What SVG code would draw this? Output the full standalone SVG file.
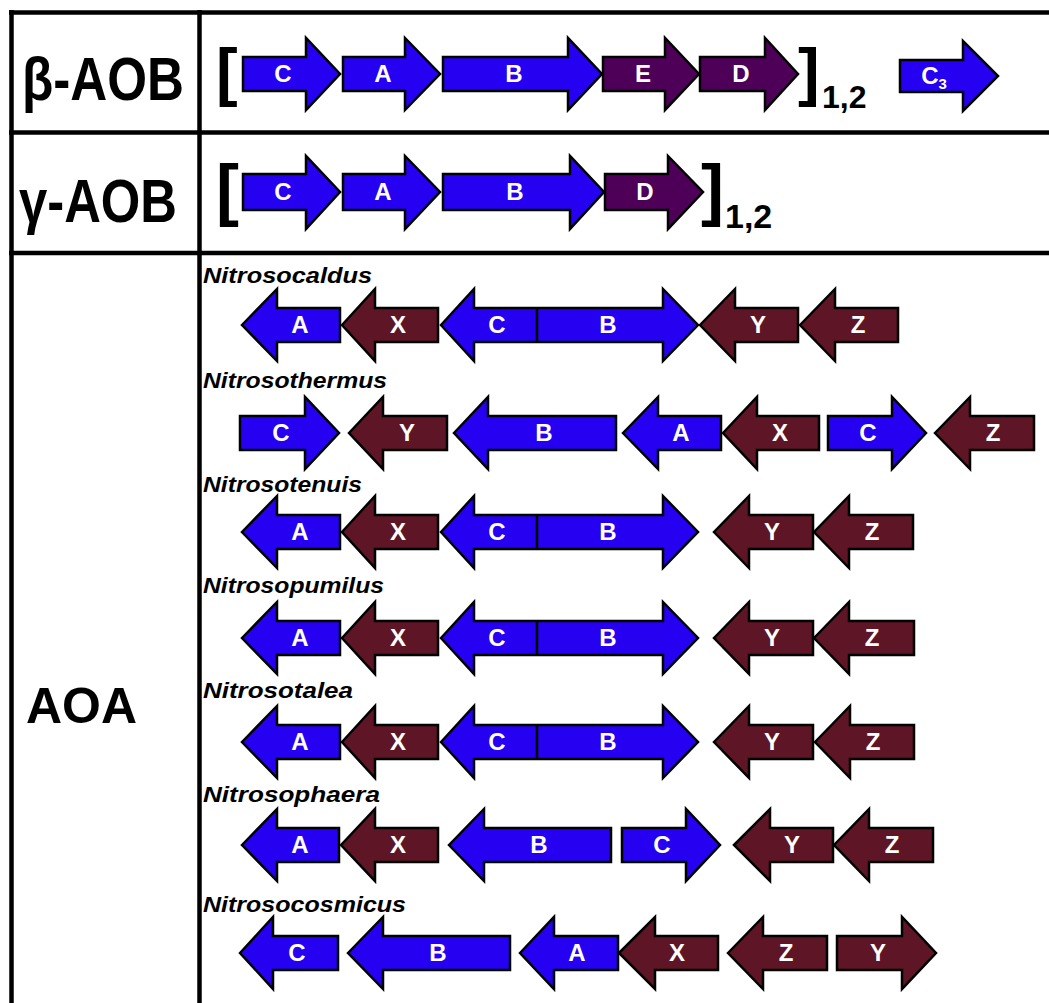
<svg xmlns="http://www.w3.org/2000/svg" width="1049" height="1003" viewBox="0 0 1049 1003">
<style>
.tb{stroke:#000;stroke-width:4.5;fill:none}
.g{stroke:#000;stroke-width:2.5;stroke-linejoin:miter}
.bl{fill:#2600f0}
.pu{fill:#4e0058}
.ma{fill:#5e1525}
.lb{font-family:"Liberation Sans",Arial,sans-serif;font-weight:bold;font-size:24px;fill:#fff;text-anchor:middle}
.sp{font-family:"Liberation Sans",Arial,sans-serif;font-weight:bold;font-style:italic;font-size:22px;fill:#000}
.big{font-family:"Liberation Sans",Arial,sans-serif;font-weight:bold;fill:#000}
.div{stroke:#000;stroke-width:2.5}
</style>
<rect width="1049" height="1003" fill="#fff"/>
<g id="table">
<line class="tb" x1="9" y1="12.5" x2="1049" y2="12.5"/>
<line class="tb" x1="9" y1="132.5" x2="1049" y2="132.5"/>
<line class="tb" x1="9" y1="253" x2="1049" y2="253"/>
<line class="tb" x1="11.5" y1="10" x2="11.5" y2="1003"/>
<line class="tb" x1="199.5" y1="10" x2="199.5" y2="1003"/>
</g>
<g id="row-labels">
<text class="big" x="22" y="100" font-size="62" textLength="162" lengthAdjust="spacingAndGlyphs">β-AOB</text>
<text class="big" x="19" y="222" font-size="62" textLength="158" lengthAdjust="spacingAndGlyphs">γ-AOB</text>
<text class="big" x="26" y="723" font-size="50" textLength="111" lengthAdjust="spacingAndGlyphs">AOA</text>
</g>
<g id="beta-AOB">
<text class="big" x="216" y="94" font-size="65">[</text>
<g id="b-C"><polygon class="g bl" points="243,57 306,57 306,38 340,74 306,110 306,91 243,91"/><text class="lb" x="283" y="82">C</text></g>
<g id="b-A"><polygon class="g bl" points="343,57 405,57 405,38 440,74 405,110 405,91 343,91"/><text class="lb" x="383" y="82">A</text></g>
<g id="b-B"><polygon class="g bl" points="443,57 568,57 568,38 602,74 568,110 568,91 443,91"/><text class="lb" x="514" y="82">B</text></g>
<g id="b-E"><polygon class="g pu" points="603,57 665,57 665,38 699,74 665,110 665,91 603,91"/><text class="lb" x="643" y="82">E</text></g>
<g id="b-D"><polygon class="g pu" points="700,57 765,57 765,38 798,74 765,110 765,91 700,91"/><text class="lb" x="741" y="82">D</text></g>
<text class="big" x="798" y="94" font-size="65">]</text>
<text class="big" x="822" y="108" font-size="32">1,2</text>
<g id="b-C3"><polygon class="g bl" points="900,60 963,60 963,41 998,76 963,111 963,92 900,92"/><text class="lb" x="934" y="84">C<tspan font-size="15" dy="5">3</tspan></text></g>
</g>
<g id="gamma-AOB">
<text class="big" x="216" y="213" font-size="69">[</text>
<g id="g-C"><polygon class="g bl" points="243,174 306,174 306,156 340,192 306,229 306,210 243,210"/><text class="lb" x="283" y="200">C</text></g>
<g id="g-A"><polygon class="g bl" points="343,174 405,174 405,156 440,192 405,229 405,210 343,210"/><text class="lb" x="383" y="200">A</text></g>
<g id="g-B"><polygon class="g bl" points="443,174 570,174 570,156 604,192 570,229 570,210 443,210"/><text class="lb" x="515" y="200">B</text></g>
<g id="g-D"><polygon class="g pu" points="605,174 668,174 668,156 703,192 668,229 668,210 605,210"/><text class="lb" x="645" y="200">D</text></g>
<text class="big" x="701" y="213" font-size="69">]</text>
<text class="big" x="725" y="228" font-size="34">1,2</text>
</g>
<g id="Nitrosocaldus">
<text class="sp" x="203" y="283" textLength="169" lengthAdjust="spacingAndGlyphs">Nitrosocaldus</text>
<g id="r1-A"><polygon class="g bl" points="242,325 277,289 277,308 340,308 340,342 277,342 277,361"/><text class="lb" x="300" y="333">A</text></g>
<g id="r1-X"><polygon class="g ma" points="342,325 375,289 375,308 438,308 438,342 375,342 375,361"/><text class="lb" x="398" y="333">X</text></g>
<g id="r1-CB"><polygon class="g bl" points="441,325 474,289 474,308 663,308 663,289 698,325 663,361 663,342 474,342 474,361"/><line class="div" x1="537" y1="308" x2="537" y2="342"/><text class="lb" x="497" y="333">C</text><text class="lb" x="608" y="333">B</text></g>
<g id="r1-Y"><polygon class="g ma" points="700,325 735,289 735,308 798,308 798,342 735,342 735,361"/><text class="lb" x="758" y="333">Y</text></g>
<g id="r1-Z"><polygon class="g ma" points="800,325 835,289 835,308 898,308 898,342 835,342 835,361"/><text class="lb" x="858" y="333">Z</text></g>
</g>
<g id="Nitrosothermus">
<text class="sp" x="203" y="388" textLength="184" lengthAdjust="spacingAndGlyphs">Nitrosothermus</text>
<g id="r2-C1"><polygon class="g bl" points="240,416 305,416 305,397 339,433 305,469 305,450 240,450"/><text class="lb" x="281" y="441">C</text></g>
<g id="r2-Y"><polygon class="g ma" points="349,433 383,397 383,416 447,416 447,450 383,450 383,469"/><text class="lb" x="407" y="441">Y</text></g>
<g id="r2-B"><polygon class="g bl" points="454,433 488,397 488,416 616,416 616,450 488,450 488,469"/><text class="lb" x="544" y="441">B</text></g>
<g id="r2-A"><polygon class="g bl" points="623,433 658,397 658,416 721,416 721,450 658,450 658,469"/><text class="lb" x="681" y="441">A</text></g>
<g id="r2-X"><polygon class="g ma" points="723,433 757,397 757,416 819,416 819,450 757,450 757,469"/><text class="lb" x="780" y="441">X</text></g>
<g id="r2-C2"><polygon class="g bl" points="828,416 892,416 892,397 926,433 892,469 892,450 828,450"/><text class="lb" x="868" y="441">C</text></g>
<g id="r2-Z"><polygon class="g ma" points="935,433 970,397 970,416 1034,416 1034,450 970,450 970,469"/><text class="lb" x="993" y="441">Z</text></g>
</g>
<g id="Nitrosotenuis">
<text class="sp" x="203" y="492" textLength="159" lengthAdjust="spacingAndGlyphs">Nitrosotenuis</text>
<g id="r3-A"><polygon class="g bl" points="242,532 277,496 277,515 340,515 340,549 277,549 277,568"/><text class="lb" x="300" y="540">A</text></g>
<g id="r3-X"><polygon class="g ma" points="342,532 375,496 375,515 438,515 438,549 375,549 375,568"/><text class="lb" x="398" y="540">X</text></g>
<g id="r3-CB"><polygon class="g bl" points="441,532 474,496 474,515 663,515 663,496 698,532 663,568 663,549 474,549 474,568"/><line class="div" x1="537" y1="515" x2="537" y2="549"/><text class="lb" x="497" y="540">C</text><text class="lb" x="608" y="540">B</text></g>
<g id="r3-Y"><polygon class="g ma" points="714,532 749,496 749,515 813,515 813,549 749,549 749,568"/><text class="lb" x="772" y="540">Y</text></g>
<g id="r3-Z"><polygon class="g ma" points="814,532 849,496 849,515 913,515 913,549 849,549 849,568"/><text class="lb" x="872" y="540">Z</text></g>
</g>
<g id="Nitrosopumilus">
<text class="sp" x="203" y="593" textLength="181" lengthAdjust="spacingAndGlyphs">Nitrosopumilus</text>
<g id="r4-A"><polygon class="g bl" points="242,638 277,602 277,621 340,621 340,655 277,655 277,674"/><text class="lb" x="300" y="646">A</text></g>
<g id="r4-X"><polygon class="g ma" points="342,638 375,602 375,621 438,621 438,655 375,655 375,674"/><text class="lb" x="398" y="646">X</text></g>
<g id="r4-CB"><polygon class="g bl" points="441,638 474,602 474,621 663,621 663,602 698,638 663,674 663,655 474,655 474,674"/><line class="div" x1="537" y1="621" x2="537" y2="655"/><text class="lb" x="497" y="646">C</text><text class="lb" x="608" y="646">B</text></g>
<g id="r4-Y"><polygon class="g ma" points="714,638 749,602 749,621 813,621 813,655 749,655 749,674"/><text class="lb" x="772" y="646">Y</text></g>
<g id="r4-Z"><polygon class="g ma" points="814,638 849,602 849,621 914,621 914,655 849,655 849,674"/><text class="lb" x="872" y="646">Z</text></g>
</g>
<g id="Nitrosotalea">
<text class="sp" x="203" y="698" textLength="150" lengthAdjust="spacingAndGlyphs">Nitrosotalea</text>
<g id="r5-A"><polygon class="g bl" points="242,742 277,706 277,725 340,725 340,759 277,759 277,778"/><text class="lb" x="300" y="750">A</text></g>
<g id="r5-X"><polygon class="g ma" points="342,742 375,706 375,725 438,725 438,759 375,759 375,778"/><text class="lb" x="398" y="750">X</text></g>
<g id="r5-CB"><polygon class="g bl" points="441,742 474,706 474,725 663,725 663,706 698,742 663,778 663,759 474,759 474,778"/><line class="div" x1="537" y1="725" x2="537" y2="759"/><text class="lb" x="497" y="750">C</text><text class="lb" x="608" y="750">B</text></g>
<g id="r5-Y"><polygon class="g ma" points="714,742 749,706 749,725 813,725 813,759 749,759 749,778"/><text class="lb" x="772" y="750">Y</text></g>
<g id="r5-Z"><polygon class="g ma" points="815,742 850,706 850,725 914,725 914,759 850,759 850,778"/><text class="lb" x="873" y="750">Z</text></g>
</g>
<g id="Nitrosophaera">
<text class="sp" x="203" y="802" textLength="177" lengthAdjust="spacingAndGlyphs">Nitrosophaera</text>
<g id="r6-A"><polygon class="g bl" points="242,845 277,809 277,828 339,828 339,862 277,862 277,881"/><text class="lb" x="300" y="853">A</text></g>
<g id="r6-X"><polygon class="g ma" points="341,845 375,809 375,828 438,828 438,862 375,862 375,881"/><text class="lb" x="398" y="853">X</text></g>
<g id="r6-B"><polygon class="g bl" points="449,845 484,809 484,828 611,828 611,862 484,862 484,881"/><text class="lb" x="539" y="853">B</text></g>
<g id="r6-C"><polygon class="g bl" points="622,828 686,828 686,809 720,845 686,881 686,862 622,862"/><text class="lb" x="662" y="853">C</text></g>
<g id="r6-Y"><polygon class="g ma" points="734,845 770,809 770,828 833,828 833,862 770,862 770,881"/><text class="lb" x="792" y="853">Y</text></g>
<g id="r6-Z"><polygon class="g ma" points="834,845 869,809 869,828 933,828 933,862 869,862 869,881"/><text class="lb" x="892" y="853">Z</text></g>
</g>
<g id="Nitrosocosmicus">
<text class="sp" x="203" y="912" textLength="203" lengthAdjust="spacingAndGlyphs">Nitrosocosmicus</text>
<g id="r7-C"><polygon class="g bl" points="240,953 273,917 273,936 338,936 338,970 273,970 273,989"/><text class="lb" x="297" y="961">C</text></g>
<g id="r7-B"><polygon class="g bl" points="348,953 383,917 383,936 510,936 510,970 383,970 383,989"/><text class="lb" x="438" y="961">B</text></g>
<g id="r7-A"><polygon class="g bl" points="520,953 554,917 554,936 618,936 618,970 554,970 554,989"/><text class="lb" x="577" y="961">A</text></g>
<g id="r7-X"><polygon class="g ma" points="619,953 655,917 655,936 718,936 718,970 655,970 655,989"/><text class="lb" x="677" y="961">X</text></g>
<g id="r7-Z"><polygon class="g ma" points="728,953 763,917 763,936 827,936 827,970 763,970 763,989"/><text class="lb" x="786" y="961">Z</text></g>
<g id="r7-Y"><polygon class="g ma" points="837,936 902,936 902,917 936,953 902,989 902,970 837,970"/><text class="lb" x="878" y="961">Y</text></g>
</g>
<g id="connectors"/>
</svg>
